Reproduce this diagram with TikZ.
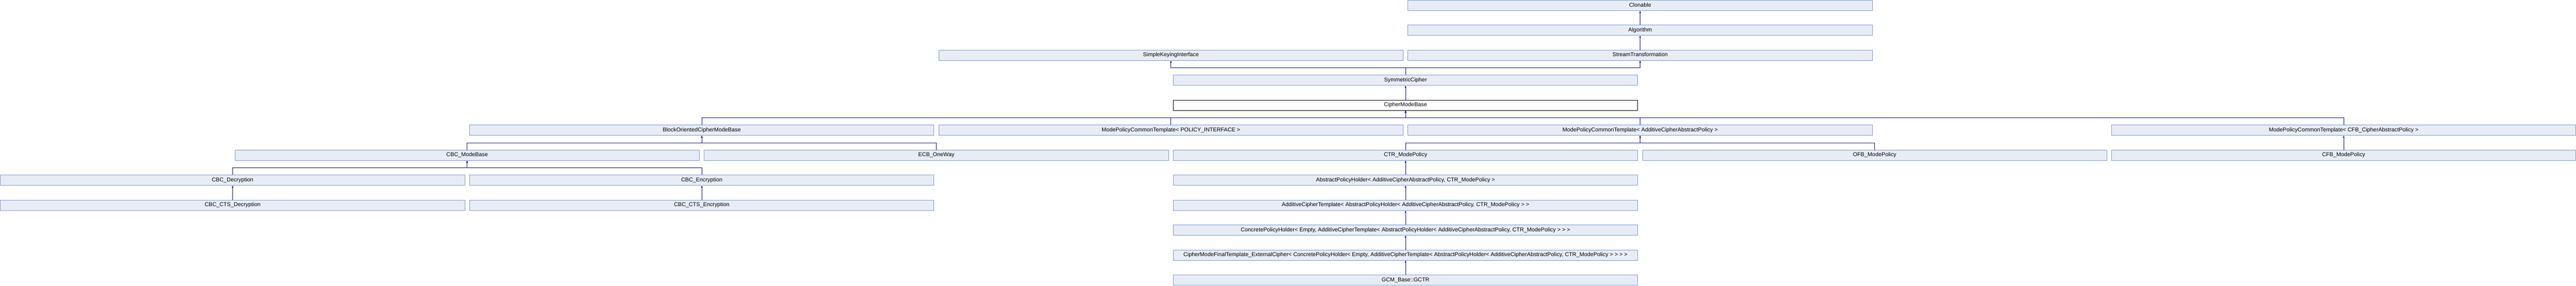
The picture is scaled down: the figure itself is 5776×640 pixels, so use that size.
\documentclass[tikz,border=0pt]{standalone}
\usepackage{fontspec}
\setmainfont{Liberation Sans}
\usetikzlibrary{arrows.meta}
\definecolor{boxfill}{RGB}{232,236,245}
\definecolor{boxline}{RGB}{125,155,208}
\definecolor{edgec}{RGB}{16,16,140}
\tikzset{
  cls/.style={draw=boxline, fill=boxfill, line width=1pt, anchor=north west,
    minimum width=1041pt, minimum height=23pt, inner sep=0pt,
    text height=9pt, text depth=3pt,
    font=\fontsize{12.5}{14}\selectfont, text=black},
  cur/.style={cls, draw=black, fill=white},
  inh/.style={draw=edgec, line width=1pt, -{Triangle[width=3.5pt,length=4.5pt]}},
}
\begin{document}
\begin{tikzpicture}[x=1pt,y=-1pt]
\useasboundingbox (0,0) rectangle (5776,640);
% rows
\node[cls] (Clon) at (3156.5,0.5) {Clonable};
\node[cls] (Alg) at (3156.5,56) {Algorithm};
\node[cls] (SKI) at (2104.5,112) {SimpleKeyingInterface};
\node[cls] (ST) at (3156.5,112) {StreamTransformation};
\node[cls] (SC) at (2630.5,168) {SymmetricCipher};
\node[cur] (CMB) at (2630.5,224) {CipherModeBase};
\node[cls] (BOC) at (1052.5,280) {BlockOrientedCipherModeBase};
\node[cls] (MPI) at (2104.5,280) {ModePolicyCommonTemplate< POLICY\_INTERFACE >};
\node[cls] (MPA) at (3156.5,280) {ModePolicyCommonTemplate< AdditiveCipherAbstractPolicy >};
\node[cls] (MPC) at (4734,280) {ModePolicyCommonTemplate< CFB\_CipherAbstractPolicy >};
\node[cls] (CBCMB) at (526.5,336) {CBC\_ModeBase};
\node[cls] (ECB) at (1578.5,336) {ECB\_OneWay};
\node[cls] (CTR) at (2630.5,336) {CTR\_ModePolicy};
\node[cls] (OFB) at (3682.5,336) {OFB\_ModePolicy};
\node[cls] (CFB) at (4734,336) {CFB\_ModePolicy};
\node[cls] (CBCD) at (0.5,392) {CBC\_Decryption};
\node[cls] (CBCE) at (1052.5,392) {CBC\_Encryption};
\node[cls] (APH) at (2630.5,392) {AbstractPolicyHolder< AdditiveCipherAbstractPolicy, CTR\_ModePolicy >};
\node[cls] (CTSD) at (0.5,448) {CBC\_CTS\_Decryption};
\node[cls] (CTSE) at (1052.5,448) {CBC\_CTS\_Encryption};
\node[cls] (ACT) at (2630.5,448) {AdditiveCipherTemplate< AbstractPolicyHolder< AdditiveCipherAbstractPolicy, CTR\_ModePolicy > >};
\node[cls] (CPH) at (2630.5,504) {ConcretePolicyHolder< Empty, AdditiveCipherTemplate< AbstractPolicyHolder< AdditiveCipherAbstractPolicy, CTR\_ModePolicy > > >};
\node[cls] (CMFT) at (2630.5,560) {CipherModeFinalTemplate\_ExternalCipher< ConcretePolicyHolder< Empty, AdditiveCipherTemplate< AbstractPolicyHolder< AdditiveCipherAbstractPolicy, CTR\_ModePolicy > > > >};
\node[cls] (GCTR) at (2630.5,616) {GCM\_Base::GCTR};
% bus levels
\coordinate (b3) at (0,152);
\coordinate (b5) at (0,264);
\coordinate (b6) at (0,320);
\coordinate (b7) at (0,376);
% direct edges
\draw[inh] (Alg.north) -- (Clon.south);
\draw[inh] (ST.north) -- (Alg.south);
\draw[inh] (CMB.north) -- (SC.south);
\draw[inh] (CFB.north) -- (MPC.south);
\draw[inh] (CTSD.north) -- (CBCD.south);
\draw[inh] (CTSE.north) -- (CBCE.south);
\draw[inh] (APH.north) -- (CTR.south);
\draw[inh] (ACT.north) -- (APH.south);
\draw[inh] (CPH.north) -- (ACT.south);
\draw[inh] (CMFT.north) -- (CPH.south);
\draw[inh] (GCTR.north) -- (CMFT.south);
% bus edges
\draw[inh] (SC.north) -- (SC.north |- b3) -| (SKI.south);
\draw[inh] (SC.north) -- (SC.north |- b3) -| (ST.south);
\draw[inh] (BOC.north) -- (BOC.north |- b5) -| (CMB.south);
\draw[inh] (MPI.north) -- (MPI.north |- b5) -| (CMB.south);
\draw[inh] (MPA.north) -- (MPA.north |- b5) -| (CMB.south);
\draw[inh] (MPC.north) -- (MPC.north |- b5) -| (CMB.south);
\draw[inh] (CBCMB.north) -- (CBCMB.north |- b6) -| (BOC.south);
\draw[inh] (ECB.north) -- (ECB.north |- b6) -| (BOC.south);
\draw[inh] (CTR.north) -- (CTR.north |- b6) -| (MPA.south);
\draw[inh] (OFB.north) -- (OFB.north |- b6) -| (MPA.south);
\draw[inh] (CBCD.north) -- (CBCD.north |- b7) -| (CBCMB.south);
\draw[inh] (CBCE.north) -- (CBCE.north |- b7) -| (CBCMB.south);
\end{tikzpicture}
\end{document}
